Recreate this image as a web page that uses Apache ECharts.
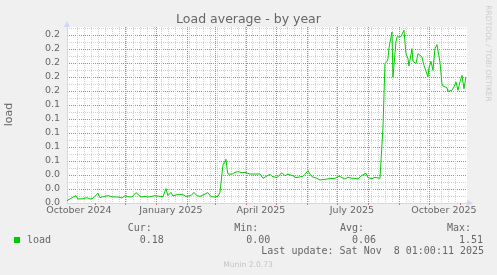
<!DOCTYPE html>
<html><head><meta charset="utf-8">
<script src="https://cdn.jsdelivr.net/npm/echarts@6/dist/echarts.min.js"></script>
<style>html,body{margin:0;padding:0;background:#f0f0f0}#c{width:497px;height:275px}</style>
</head><body><div id="c"></div>
<script>
// ---- data ----
const dates = ['2024-10-04','2024-10-08','2024-10-10','2024-10-13','2024-10-15','2024-10-20','2024-10-24','2024-10-27','2024-10-30','2024-11-04','2024-11-06','2024-11-09','2024-11-14','2024-11-19','2024-11-24','2024-11-26','2024-11-28','2024-12-01','2024-12-04','2024-12-08','2024-12-12','2024-12-14','2024-12-17','2024-12-21','2024-12-24','2024-12-28','2024-12-31','2025-01-02','2025-01-05','2025-01-08','2025-01-11','2025-01-13','2025-01-16','2025-01-18','2025-01-22','2025-01-28','2025-01-31','2025-02-02','2025-02-05','2025-02-08','2025-02-11','2025-02-14','2025-02-17','2025-02-22','2025-02-25','2025-03-01','2025-03-04','2025-03-06','2025-03-08','2025-03-09','2025-03-11','2025-03-12','2025-03-13','2025-03-14','2025-03-18','2025-03-21','2025-03-24','2025-03-28','2025-03-31','2025-04-02','2025-04-05','2025-04-10','2025-04-15','2025-04-18','2025-04-22','2025-04-25','2025-04-27','2025-05-02','2025-05-04','2025-05-07','2025-05-10','2025-05-13','2025-05-18','2025-05-21','2025-05-23','2025-05-28','2025-05-30','2025-06-02','2025-06-04','2025-06-06','2025-06-07','2025-06-11','2025-06-14','2025-06-19','2025-06-24','2025-06-29','2025-07-03','2025-07-06','2025-07-09','2025-07-12','2025-07-16','2025-07-19','2025-07-22','2025-07-25','2025-07-27','2025-07-30','2025-08-01','2025-08-05','2025-08-08','2025-08-10','2025-08-13','2025-08-15','2025-08-16','2025-08-17','2025-08-18','2025-08-20','2025-08-21','2025-08-22','2025-08-24','2025-08-25','2025-08-26','2025-08-27','2025-08-29','2025-08-30','2025-09-01','2025-09-03','2025-09-05','2025-09-06','2025-09-08','2025-09-10','2025-09-11','2025-09-14','2025-09-15','2025-09-18','2025-09-20','2025-09-22','2025-09-24','2025-09-26','2025-09-28','2025-09-30','2025-10-01','2025-10-03','2025-10-05','2025-10-07','2025-10-09','2025-10-10','2025-10-12','2025-10-14','2025-10-15','2025-10-17','2025-10-19','2025-10-20','2025-10-22','2025-10-24','2025-10-26','2025-10-28','2025-10-30','2025-11-01','2025-11-03','2025-11-05','2025-11-07'];
const loadValues = [0.0033,0.0067,0.0071,0.0105,0.0057,0.006,0.0076,0.0057,0.0067,0.0138,0.0076,0.009,0.0105,0.0086,0.0086,0.0109,0.0071,0.0105,0.009,0.0086,0.0148,0.0148,0.0086,0.0095,0.0086,0.0095,0.0105,0.0086,0.0095,0.009,0.0205,0.0105,0.0152,0.01,0.0119,0.0119,0.0095,0.0119,0.0105,0.0152,0.0105,0.0095,0.0114,0.0148,0.009,0.0086,0.0095,0.0152,0.0138,0.0543,0.0543,0.0624,0.0495,0.0414,0.041,0.0438,0.0448,0.0433,0.0438,0.0448,0.0414,0.0414,0.0414,0.0352,0.0386,0.041,0.0381,0.0362,0.0386,0.0433,0.039,0.041,0.039,0.0362,0.0386,0.0381,0.041,0.0462,0.0414,0.0376,0.0395,0.0352,0.0329,0.0338,0.0348,0.0352,0.0386,0.0362,0.0343,0.0367,0.0352,0.0352,0.0343,0.0386,0.0367,0.0424,0.0362,0.0348,0.0367,0.039,0.0352,0.0338,0.107,0.107,0.199,0.2024,0.2062,0.2214,0.2229,0.2443,0.18,0.18,0.23,0.2371,0.2357,0.2376,0.2395,0.2467,0.2133,0.2062,0.1957,0.2205,0.2024,0.199,0.2133,0.211,0.2086,0.1967,0.1943,0.18,0.1929,0.2024,0.1895,0.2205,0.2262,0.2276,0.2014,0.1705,0.1671,0.1657,0.1648,0.1595,0.1576,0.161,0.1657,0.1729,0.161,0.1729,0.1824,0.1633,0.18];
const xLabelMonths = ['October 2024','January 2025','April 2025','July 2025','October 2025'];
const statLabels = ['Cur:','Min:','Avg:','Max:'];
const statValues = ['0.18','0.00','0.06','1.51'];
const titleText = 'Load average - by year';
const seriesName = 'load';
const lastUpdate = 'Last update: Sat Nov  8 01:00:11 2025';

// ---- build ----
const DAY = 86400000;
const monthNames = ['January','February','March','April','May','June','July','August','September','October','November','December'];
const startT = new Date(2024,9,4,1).getTime();
const endT = new Date(2025,10,8,1).getTime();
function parseD(s){const p=s.split('-');return new Date(+p[0],+p[1]-1,+p[2]).getTime();}
const seriesData = dates.map((d,i)=>[parseD(d), loadValues[i]]);
const monthTicks = [];
for (let y=2024,m=0;;m++){ if(m>11){m=0;y++;} const t=new Date(y,m,1).getTime(); if(t>endT) break; if(t>startT) monthTicks.push(t); }
const weekTicks = [];
for (let t=new Date(2024,9,7).getTime(); t<endT; t+=7*DAY) weekTicks.push(t);
const labelTimes = xLabelMonths.map(s=>{const [mn,yr]=s.split(' '); return new Date(+yr, monthNames.indexOf(mn), 1).getTime()+15*DAY;});

const FONT = 'DejaVu Sans';
const MONO = 'DejaVu Sans Mono';
const fontCol = '#666666';
const axisCol = '#CFD6F8';
const majorCol = '#e07474';
const minorCol = '#d0d0d0';

const graphic = [
  {type:'text', x:9.5, y:114.5, rotation:Math.PI/2, style:{text:'load', font:'11px '+FONT, fill:fontCol, align:'center', verticalAlign:'middle', textAlign:'center', textVerticalAlign:'middle'}},
  {type:'text', x:488, y:53.5, rotation:-Math.PI/2, style:{text:'RRDTOOL / TOBI OETIKER', font:'7.5px '+FONT, fill:'#cccccc', align:'center', verticalAlign:'middle', textAlign:'center', textVerticalAlign:'middle'}},
  {type:'text', x:248, y:264.8, style:{text:'Munin 2.0.73', font:'7.6px '+FONT, fill:'#c4c4c4', align:'center', verticalAlign:'middle', textAlign:'center', textVerticalAlign:'middle'}},
  {type:'text', x:261.3, y:251.8, style:{text:lastUpdate, font:'10px '+MONO, fill:fontCol, align:'left', verticalAlign:'middle', textAlign:'left', textVerticalAlign:'middle'}}
];
const colX = [127.7, 234.3, 340, 447];
statLabels.forEach((s,i)=>{
  graphic.push({type:'text', x:colX[i], y:228.8, style:{text:s, font:'10px '+MONO, fill:fontCol, align:'left', verticalAlign:'middle', textAlign:'left', textVerticalAlign:'middle'}});
  graphic.push({type:'text', x:colX[i]+12, y:240, style:{text:statValues[i], font:'10px '+MONO, fill:fontCol, align:'left', verticalAlign:'middle', textAlign:'left', textVerticalAlign:'middle'}});
});

const chart = echarts.init(document.getElementById('c'), null, {renderer:'canvas'});
chart.setOption({
  animation:false,
  backgroundColor:'#f0f0f0',
  title:{text:titleText, left:'center', top:13.5, padding:0, textStyle:{fontFamily:FONT, fontSize:12.5, fontWeight:'normal', color:fontCol}},
  legend:{data:[seriesName], left:14, top:235, padding:0, icon:'rect', itemWidth:6, itemHeight:6, itemGap:0,
    textStyle:{fontFamily:MONO, fontSize:10, color:fontCol, padding:[0,0,0,2]}},
  grid:{left:67, right:30, top:27, bottom:72, show:true, backgroundColor:'#ffffff', borderWidth:0, containLabel:false},
  xAxis:[
    {type:'value', min:startT, max:endT, position:'bottom', z:2,
      axisLine:{show:true, lineStyle:{color:axisCol, width:1}, symbol:['none','triangle'], symbolSize:[6,6], symbolOffset:[0,3]},
      axisTick:{show:true, customValues:monthTicks, length:2, inside:false, lineStyle:{color:majorCol}},
      axisLabel:{show:true, customValues:labelTimes, margin:3, color:fontCol, fontFamily:FONT, fontSize:9.5,
        formatter:function(v){ for(let i=0;i<labelTimes.length;i++){ if(Math.abs(labelTimes[i]-v)<3600000) return xLabelMonths[i]; } return ''; }},
      splitLine:{show:true, showMinLine:false, showMaxLine:false, lineStyle:{color:majorCol, type:[1,1], width:1}}
    },
    {type:'value', min:startT, max:endT, position:'bottom', z:1,
      axisLine:{show:false}, axisLabel:{show:false},
      axisTick:{show:false, customValues:weekTicks},
      splitLine:{show:true, showMinLine:false, showMaxLine:false, lineStyle:{color:minorCol, type:[1,1], width:1}}
    }
  ],
  yAxis:{type:'value', min:0, max:0.2514, interval:0.02,
    axisLine:{show:true, lineStyle:{color:axisCol, width:1}, symbol:['none','triangle'], symbolSize:[6,6], symbolOffset:[0,3]},
    axisTick:{show:false},
    axisLabel:{color:fontCol, fontFamily:FONT, fontSize:9.5, margin:7, showMaxLabel:false, formatter:function(v){return v.toFixed(1);}},
    splitLine:{show:true, showMinLine:false, showMaxLine:false, lineStyle:{color:majorCol, type:[1,1], width:1}},
    minorTick:{show:false, splitNumber:2},
    minorSplitLine:{show:true, lineStyle:{color:minorCol, type:[1,1], width:1}}
  },
  series:[{name:seriesName, type:'line', xAxisIndex:0, data:seriesData, showSymbol:false, symbol:'none',
    lineStyle:{color:'#00cc00', width:1}, itemStyle:{color:'#00cc00'}, z:5}],
  graphic:graphic
});
</script></body></html>
